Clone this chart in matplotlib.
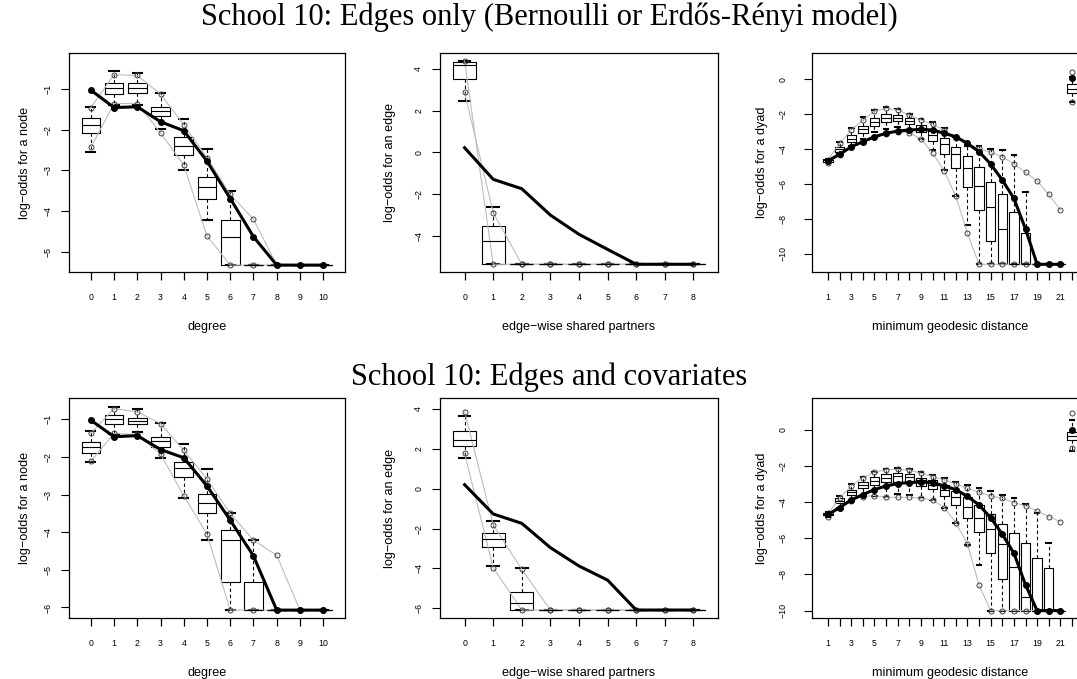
import matplotlib
matplotlib.use("Agg")
import matplotlib.pyplot as plt
import numpy as np

plt.rcParams['font.family'] = ['Liberation Sans', 'DejaVu Sans']

# ---------------- data ----------------
deg_labels = [str(i) for i in range(11)]
esp_labels = [str(i) for i in range(9)]
dist_labels = [str(i) for i in range(1, 22)] + ['Inf']

# School 10, edges only: degree
deg1_lo = [-2.54, -1.38, -1.38, -1.98, -2.99, -4.22, -5.33, -5.33, -5.33, -5.33, -5.33]
deg1_q1 = [-2.07, -1.11, -1.08, -1.66, -2.62, -3.69, -5.33, -5.33, -5.33, -5.33, -5.33]
deg1_med = [-1.89, -0.98, -0.96, -1.53, -2.40, -3.41, -4.63, -5.33, -5.33, -5.33, -5.33]
deg1_q3 = [-1.71, -0.85, -0.85, -1.43, -2.17, -3.15, -4.22, -5.33, -5.33, -5.33, -5.33]
deg1_hi = [-1.43, -0.56, -0.59, -1.10, -1.73, -2.47, -3.50, -5.33, -5.33, -5.33, -5.33]
deg1_obs = [-1.02, -1.45, -1.43, -1.80, -2.02, -2.77, -3.69, -4.63, -5.33, -5.33, -5.33]
deg1_ga = [-1.45, -0.64, -0.66, -1.12, -1.87, -2.68, -3.59, -4.20, -5.33, -5.33, -5.33]
deg1_gb = [-2.43, -1.35, -1.35, -2.07, -2.87, -4.61, -5.33, -5.33, -5.33, -5.33, -5.33]

# edges only: edge-wise shared partners
esp1_lo = [2.47, -5.35, -5.35, -5.35, -5.35, -5.35, -5.35, -5.35, -5.35]
esp1_q1 = [3.49, -5.35, -5.35, -5.35, -5.35, -5.35, -5.35, -5.35, -5.35]
esp1_med = [4.18, -4.22, -5.35, -5.35, -5.35, -5.35, -5.35, -5.35, -5.35]
esp1_q3 = [4.33, -3.51, -5.35, -5.35, -5.35, -5.35, -5.35, -5.35, -5.35]
esp1_hi = [4.37, -2.60, -5.35, -5.35, -5.35, -5.35, -5.35, -5.35, -5.35]
esp1_obs = [0.22, -1.29, -1.74, -3.00, -3.92, -4.64, -5.35, -5.35, -5.35]
esp1_ga = [4.37, -5.35, -5.35, -5.35, -5.35, -5.35, -5.35, -5.35, -5.35]
esp1_gb = [2.87, -2.88, -5.35, -5.35, -5.35, -5.35, -5.35, -5.35, -5.35]

# edges only: minimum geodesic distance
dist1_lo = [-4.75, -4.30, -3.85, -3.45, -3.05, -2.85, -2.75, -2.95, -3.40, -4.06, -5.20,
            -6.67, -8.34, -10.59, -10.59, -10.59, -10.59, -10.59, -10.59, -10.59, -10.59, -1.30]
dist1_q1 = [-4.72, -4.15, -3.58, -3.10, -2.67, -2.48, -2.38, -2.57, -3.01, -3.52, -4.29,
            -5.10, -6.15, -7.49, -9.24, -10.59, -10.59, -10.59, -10.59, -10.59, -10.59, -0.82]
dist1_med = [-4.65, -4.00, -3.40, -2.87, -2.45, -2.25, -2.22, -2.42, -2.80, -3.20, -3.70,
             -4.30, -5.10, -6.10, -7.33, -8.55, -10.59, -10.59, -10.59, -10.59, -10.59, -0.55]
dist1_q3 = [-4.58, -3.87, -3.20, -2.69, -2.25, -2.00, -2.06, -2.25, -2.63, -2.95, -3.39,
            -3.90, -4.38, -5.05, -5.90, -6.59, -7.58, -8.82, -10.59, -10.59, -10.59, -0.27]
dist1_hi = [-4.55, -3.58, -2.78, -2.19, -1.77, -1.62, -1.73, -2.00, -2.29, -2.48, -2.82,
            -3.30, -3.83, -3.83, -4.00, -4.06, -4.34, -6.44, -10.59, -10.59, -10.59, 0.10]
dist1_obs = [-4.67, -4.30, -3.87, -3.58, -3.30, -3.10, -2.97, -2.91, -2.88, -2.91, -3.10,
             -3.30, -3.68, -4.15, -4.86, -5.77, -6.82, -8.57, -10.59, -10.59, -10.59, 0.05]
dist1_ga = [-4.60, -3.68, -2.91, -2.34, -1.83, -1.68, -1.77, -2.06, -2.34, -2.59, -2.91,
            -3.35, -3.72, -3.96, -4.19, -4.44, -4.86, -5.33, -5.83, -6.59, -7.49, 0.42]
dist1_gb = [-4.82, -4.34, -3.90, -3.58, -3.30, -3.14, -3.01, -3.07, -3.43, -4.21, -5.26,
            -6.69, -8.82, -10.59, -10.59, -10.59, -10.59, -10.59, -10.59, -10.59, -10.59, -1.30]

# School 10, edges and covariates: degree
deg2_lo = [-2.13, -1.40, -1.33, -2.02, -3.08, -4.21, -6.07, -6.07, -6.07, -6.07, -6.07]
deg2_q1 = [-1.89, -1.11, -1.13, -1.73, -2.54, -3.50, -5.32, -6.07, -6.07, -6.07, -6.07]
deg2_med = [-1.73, -1.00, -1.04, -1.58, -2.28, -3.22, -4.21, -6.07, -6.07, -6.07, -6.07]
deg2_q3 = [-1.59, -0.88, -0.95, -1.46, -2.13, -2.97, -3.94, -5.32, -6.07, -6.07, -6.07]
deg2_hi = [-1.30, -0.66, -0.73, -1.09, -1.64, -2.33, -3.50, -4.21, -6.07, -6.07, -6.07]
deg2_obs = [-1.02, -1.46, -1.43, -1.80, -2.02, -2.77, -3.68, -4.63, -6.07, -6.07, -6.07]
deg2_ga = [-1.37, -0.71, -0.80, -1.11, -1.82, -2.58, -3.50, -4.21, -4.61, -6.07, -6.07]
deg2_gb = [-2.11, -1.37, -1.40, -1.92, -3.03, -4.05, -6.07, -6.07, -6.07, -6.07, -6.07]

# edges and covariates: edge-wise shared partners
esp2_lo = [1.52, -3.87, -6.09, -6.09, -6.09, -6.09, -6.09, -6.09, -6.09]
esp2_q1 = [2.16, -2.91, -6.09, -6.09, -6.09, -6.09, -6.09, -6.09, -6.09]
esp2_med = [2.44, -2.54, -5.72, -6.09, -6.09, -6.09, -6.09, -6.09, -6.09]
esp2_q3 = [2.90, -2.24, -5.20, -6.09, -6.09, -6.09, -6.09, -6.09, -6.09]
esp2_hi = [3.65, -1.61, -3.97, -6.09, -6.09, -6.09, -6.09, -6.09, -6.09]
esp2_obs = [0.20, -1.27, -1.74, -2.96, -3.88, -4.59, -6.09, -6.09, -6.09]
esp2_ga = [3.87, -1.82, -4.05, -6.09, -6.09, -6.09, -6.09, -6.09, -6.09]
esp2_gb = [1.77, -3.97, -6.09, -6.09, -6.09, -6.09, -6.09, -6.09, -6.09]

# edges and covariates: minimum geodesic distance
dist2_lo = [-4.80, -4.30, -3.90, -3.69, -3.63, -3.70, -3.56, -3.60, -3.78, -3.87, -4.30,
            -5.13, -6.37, -7.47, -10.0, -10.0, -10.0, -10.0, -10.0, -10.0, -10.0, -1.14]
dist2_q1 = [-4.72, -4.06, -3.60, -3.23, -3.04, -2.90, -2.86, -2.86, -3.10, -3.28, -3.65,
            -4.15, -4.89, -5.63, -6.83, -8.27, -10.0, -10.0, -10.0, -10.0, -10.0, -0.55]
dist2_med = [-4.65, -3.95, -3.45, -3.05, -2.80, -2.67, -2.55, -2.60, -2.75, -3.05, -3.30,
             -3.70, -4.25, -4.85, -5.50, -6.30, -7.60, -9.25, -10.0, -10.0, -10.0, -0.33]
dist2_q3 = [-4.58, -3.78, -3.32, -2.90, -2.62, -2.45, -2.40, -2.45, -2.64, -2.77, -3.04,
            -3.38, -3.69, -4.15, -4.67, -5.22, -5.72, -6.27, -7.07, -7.66, -10.0, -0.09]
dist2_hi = [-4.55, -3.65, -2.99, -2.58, -2.34, -2.16, -2.08, -2.18, -2.34, -2.49, -2.68,
            -2.86, -3.04, -3.23, -3.38, -3.60, -3.78, -4.11, -4.61, -6.24, -10.0, 0.55]
dist2_obs = [-4.67, -4.30, -3.87, -3.58, -3.30, -3.10, -2.97, -2.91, -2.88, -2.91, -3.10,
             -3.30, -3.68, -4.15, -4.86, -5.77, -6.82, -8.57, -10.0, -10.0, -10.0, 0.0]
dist2_ga = [-4.61, -3.78, -3.10, -2.64, -2.34, -2.21, -2.18, -2.21, -2.40, -2.58, -2.77,
            -2.99, -3.23, -3.45, -3.65, -3.78, -4.02, -4.21, -4.48, -4.80, -5.07, 0.92]
dist2_gb = [-4.80, -4.34, -3.91, -3.69, -3.63, -3.73, -3.73, -3.73, -3.78, -3.87, -4.30,
            -5.13, -6.31, -8.58, -10.0, -10.0, -10.0, -10.0, -10.0, -10.0, -10.0, -0.98]


def panel(ax, labels, lo, q1, med, q3, hi, obs, ga, gb, ylim, yticks, ylab, xlab,
          obs_dots=True, has_inf=False, every=1, ytick_pad=6.3, ylab_x=-0.16):
    n = len(labels)
    pos = np.arange(n)
    stats = [dict(whislo=a, q1=b, med=c, q3=d, whishi=e, fliers=[])
             for a, b, c, d, e in zip(lo, q1, med, q3, hi)]
    ax.bxp(stats, positions=pos, widths=0.8, capwidths=0.4, showfliers=False,
           boxprops=dict(color='black', lw=0.8),
           medianprops=dict(color='black', lw=0.8),
           whiskerprops=dict(color='black', lw=0.8, ls=(0, (3, 2.5))),
           capprops=dict(color='black', lw=1.5))

    m = n - 1 if has_inf else n
    gkw = dict(color='#bdbdbd', lw=0.8, marker='o', ms=3.6, mfc='none',
               mec='#404040', mew=0.7)
    mk = dict(marker='o', ms=3.6, mfc='none', mec='#404040', mew=0.7)
    ax.plot(pos[:m], ga[:m], **gkw)
    ax.plot(pos[:m], gb[:m], **gkw)
    if obs_dots:
        ax.plot(pos[:m], obs[:m], color='black', lw=2.2, marker='o', ms=4.0)
    else:
        ax.plot(pos[:m], obs[:m], color='black', lw=2.2)
    if has_inf:
        ax.plot([pos[-1]], [ga[-1]], ls='none', **mk)
        ax.plot([pos[-1]], [gb[-1]], ls='none', **mk)
        ax.plot([pos[-1]], [obs[-1]], ls='none', color='black', marker='o', ms=4.0)

    pad = 0.04 * n
    ax.set_xlim(-0.5 - pad, n - 0.5 + pad)
    ax.set_ylim(*ylim)
    ax.set_xticks(pos)
    ax.set_xticklabels([l if i % every == 0 else '' for i, l in enumerate(labels)])
    ax.set_yticks(yticks)
    ax.set_yticklabels([str(t).replace('-', '\u2212') for t in yticks],
                       rotation=90, va='center')
    ax.tick_params(axis='x', length=5.6, width=0.9, pad=9.7, labelsize=6.3, colors='black')
    ax.tick_params(axis='y', length=5.6, width=0.8, pad=ytick_pad, labelsize=6.3)
    for s in ax.spines.values():
        s.set_linewidth(0.9)
    ax.set_xlabel(xlab, fontsize=9.1, va='center')
    ax.set_ylabel(ylab, fontsize=9.1, va='center')
    ax.xaxis.set_label_coords(0.5, -0.251)
    ax.yaxis.set_label_coords(ylab_x, 0.5)


fig = plt.figure(figsize=(10.77, 6.79), dpi=100)

top_b, top_h = 1 - 272 / 679, 219 / 679
bot_b, bot_h = 1 - 618 / 679, 220 / 679
cols = [(69 / 1077, 276 / 1077), (440 / 1077, 278 / 1077), (812 / 1077, 276 / 1077)]

rows = [
    (top_b, top_h,
     [(deg_labels, deg1_lo, deg1_q1, deg1_med, deg1_q3, deg1_hi, deg1_obs, deg1_ga, deg1_gb,
       (-5.5, -0.106), [-1, -2, -3, -4, -5]),
      (esp_labels, esp1_lo, esp1_q1, esp1_med, esp1_q3, esp1_hi, esp1_obs, esp1_ga, esp1_gb,
       (-5.72, 4.75), [4, 2, 0, -2, -4]),
      (dist_labels, dist1_lo, dist1_q1, dist1_med, dist1_q3, dist1_hi, dist1_obs, dist1_ga, dist1_gb,
       (-11.03, 1.49), [0, -2, -4, -6, -8, -10])]),
    (bot_b, bot_h,
     [(deg_labels, deg2_lo, deg2_q1, deg2_med, deg2_q3, deg2_hi, deg2_obs, deg2_ga, deg2_gb,
       (-6.28, -0.43), [-1, -2, -3, -4, -5, -6]),
      (esp_labels, esp2_lo, esp2_q1, esp2_med, esp2_q3, esp2_hi, esp2_obs, esp2_ga, esp2_gb,
       (-6.49, 4.55), [4, 2, 0, -2, -4, -6]),
      (dist_labels, dist2_lo, dist2_q1, dist2_med, dist2_q3, dist2_hi, dist2_obs, dist2_ga, dist2_gb,
       (-10.41, 1.77), [0, -2, -4, -6, -8, -10])]),
]

ylabs = ['log\u2212odds for a node', 'log\u2212odds for an edge', 'log\u2212odds for a dyad']
xlabs = ['degree', 'edge\u2212wise shared partners', 'minimum geodesic distance']

for b, h, specs in rows:
    for j, spec in enumerate(specs):
        x0, w = cols[j]
        ax = fig.add_axes([x0, b, w, h])
        labels, lo, q1, med, q3, hi, obs, ga, gb, ylim, yt = spec
        panel(ax, labels, lo, q1, med, q3, hi, obs, ga, gb, ylim, yt, ylabs[j], xlabs[j],
              obs_dots=(j != 1), has_inf=(j == 2), every=(2 if j == 2 else 1),
              ytick_pad=(12 if j == 2 else 6.5), ylab_x=(-0.159 if j == 0 else -0.18))

title_x = 549 / 1077
fig.text(title_x, 1 - 17 / 679, 'School 10: Edges only (Bernoulli or Erd\u0151s-R\u00e9nyi model)',
         ha='center', va='center', fontsize=22, family=['Liberation Serif', 'DejaVu Serif'])
fig.text(title_x, 1 - 377 / 679, 'School 10: Edges and covariates',
         ha='center', va='center', fontsize=22, family=['Liberation Serif', 'DejaVu Serif'])

fig.savefig('out.png', dpi=100)
